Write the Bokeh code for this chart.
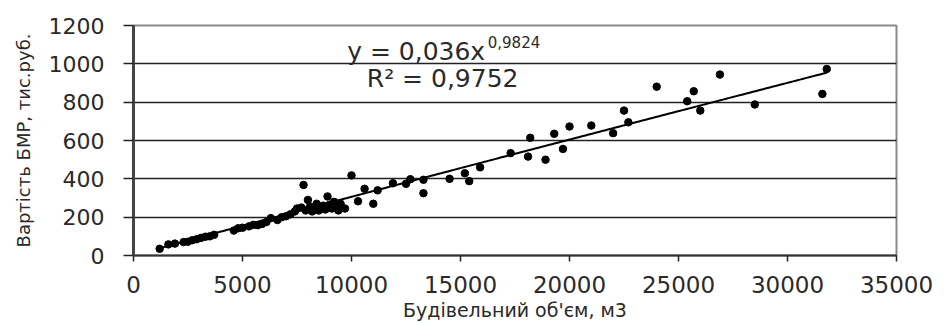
import numpy as np
from bokeh.plotting import figure
from bokeh.models import Range1d, FixedTicker, Label
from bokeh.embed import file_html
from bokeh.resources import INLINE

# --- data ---
volume_m3 = [1200, 1600, 1900, 2300, 2500, 2700, 2900, 3100, 3300, 3500, 3700,
             4600, 4800, 5000, 5300, 5500, 5700, 5900, 6100, 6300, 6600, 6800,
             7000, 7200, 7400, 7500, 7700, 7800, 7900, 8000, 8100, 8200, 8300,
             8400, 8500, 8600, 8700, 8800, 8900, 9000, 9100, 9200, 9300, 9400,
             9500, 9700, 10000, 10300, 10600, 11000, 11200, 11900, 12500, 12700,
             13300, 13300, 14500, 15200, 15400, 15900, 17300, 18100, 18200,
             18900, 19300, 19700, 20000, 21000, 22000, 22500, 22700, 24000,
             25400, 25700, 26000, 26900, 28500, 31600, 31800]
cost_k = [35, 58, 62, 70, 72, 80, 85, 92, 98, 100, 108,
          130, 142, 145, 152, 160, 158, 165, 175, 195, 185, 200,
          205, 215, 230, 245, 250, 368, 235, 290, 255, 230, 245,
          270, 235, 250, 260, 240, 308, 265, 245, 280, 255, 235,
          270, 245, 418, 283, 348, 270, 340, 377, 374, 398,
          395, 325, 400, 429, 388, 460, 534, 516, 614,
          500, 635, 556, 673, 678, 638, 756, 695, 881,
          805, 857, 756, 944, 788, 843, 973]

fit_a = 0.036
fit_b = 0.9824
r_squared = "0,9752"

x_ticks = [0, 5000, 10000, 15000, 20000, 25000, 30000, 35000]
y_ticks = [0, 200, 400, 600, 800, 1000, 1200]

FONT = "DejaVu Sans"
TXT = "#2a2a2a"

p = figure(width=940, height=323, output_backend="svg", toolbar_location=None,
           x_range=Range1d(0, 35000), y_range=Range1d(0, 1200),
           min_border_left=133, min_border_right=44, min_border_top=25,
           min_border_bottom=68)
p.background_fill_color = "white"
p.border_fill_color = "white"
p.outline_line_color = "#8a8a8a"
p.outline_line_width = 2

# grid
p.xgrid.visible = False
p.ygrid.ticker = FixedTicker(ticks=y_ticks)
p.ygrid.grid_line_color = "#222222"
p.ygrid.grid_line_width = 1.5

# axes
p.xaxis.ticker = FixedTicker(ticks=x_ticks)
p.yaxis.ticker = FixedTicker(ticks=y_ticks)
for ax in (p.xaxis[0], p.yaxis[0]):
    ax.minor_tick_line_color = None
    ax.major_tick_in = 0
    ax.major_label_text_font = FONT
    ax.major_label_text_color = TXT
    ax.axis_label_text_font = FONT
    ax.axis_label_text_font_style = "normal"
    ax.axis_label_text_color = TXT
    ax.major_tick_line_color = "#222222"
    ax.major_tick_line_width = 1.5

p.xaxis.axis_line_color = "#333333"
p.xaxis.axis_line_width = 2
p.xaxis.major_tick_out = 6
p.xaxis.major_label_standoff = 14
p.xaxis.major_label_text_font_size = "23px"
p.xaxis.axis_label = "Будівельний об'єм, м3"
p.xaxis.axis_label_text_font_size = "19px"
p.xaxis.axis_label_standoff = 3

p.yaxis.axis_line_color = "#444444"
p.yaxis.axis_line_width = 3
p.yaxis.major_tick_out = 10
p.yaxis.major_label_standoff = 19
p.yaxis.major_label_text_font_size = "22px"
p.yaxis.axis_label = "Вартість БМР, тис.руб."
p.yaxis.axis_label_text_font_size = "18px"
p.yaxis.axis_label_standoff = 12

# points
p.scatter(volume_m3, cost_k, size=7.5, color="black")

# power trend line
xs = np.linspace(min(volume_m3), max(volume_m3), 200)
ys = fit_a * xs ** fit_b
p.line(xs, ys, line_color="black", line_width=2)

# equation labels
eq1 = Label(x=9800, y=1064, text="y = 0,036x", text_font=FONT,
            text_font_size="25px", text_color=TXT, text_baseline="alphabetic")
eq_sup = Label(x=16250, y=1115, text="0,9824", text_font=FONT,
               text_font_size="15px", text_color=TXT, text_baseline="alphabetic")
eq2 = Label(x=10700, y=923, text="R² = " + r_squared, text_font=FONT,
            text_font_size="25px", text_color=TXT, text_baseline="alphabetic")
for lb in (eq1, eq_sup, eq2):
    p.add_layout(lb)

open("out.html", "w").write(file_html(p, INLINE))
